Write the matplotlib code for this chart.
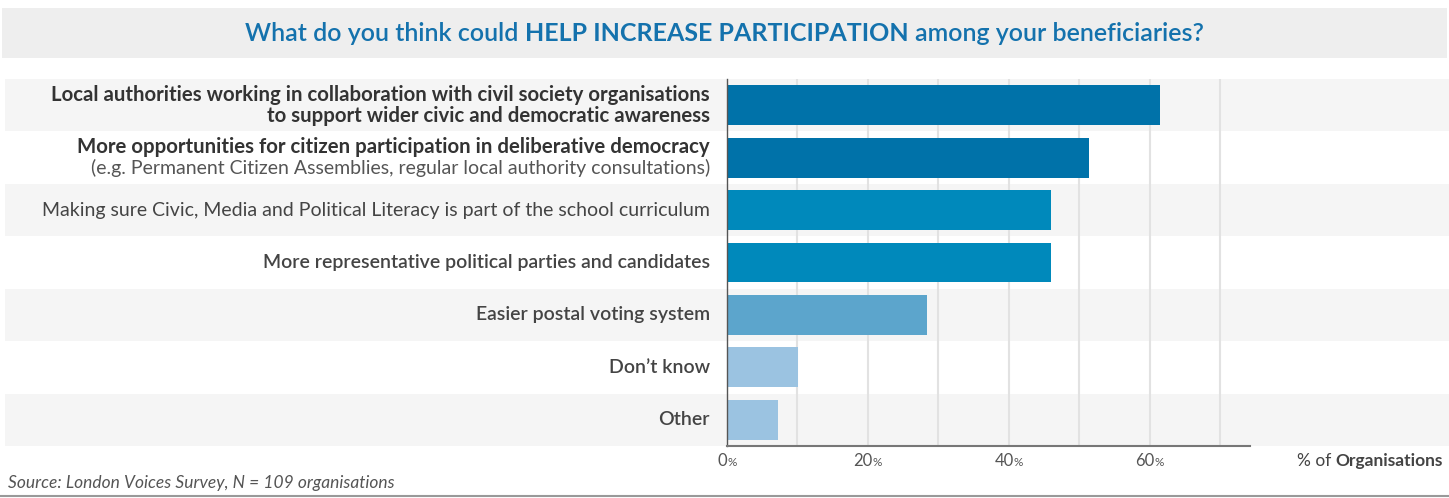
import matplotlib
matplotlib.use('Agg')
import matplotlib.pyplot as plt
from matplotlib.patches import Rectangle
from matplotlib.transforms import IdentityTransform, blended_transform_factory

# data
categories = [
    "Local authorities working in collaboration with civil society organisations\nto support wider civic and democratic awareness",
    "More opportunities for citizen participation in deliberative democracy",
    "Making sure Civic, Media and Political Literacy is part of the school curriculum",
    "More representative political parties and candidates",
    "Easier postal voting system",
    "Don\u2019t know",
    "Other",
]
notes = ["", "(e.g. Permanent Citizen Assemblies, regular local authority consultations)", "", "", "", "", ""]
weights = ["bold", "bold", "normal", "semibold", "semibold", "semibold", "semibold"]
values = [61.5, 51.4, 45.9, 45.9, 28.4, 10.1, 7.3]
bar_colors = ["#0072a9", "#0072a9", "#0089bb", "#0089bb", "#5ca5cc", "#9bc3e1", "#9bc3e1"]
ticks = [0, 20, 40, 60]

FONT = "Lato"
W, H = 1449, 498
plt.rcParams['font.family'] = [FONT, 'DejaVu Sans']
BSIZE = 14.7   # bold labels
LSIZE = 14.0   # regular labels

fig = plt.figure(figsize=(W / 100, H / 100), dpi=100)
ax = fig.add_axes([727 / W, 1 - 446 / H, 523 / W, 367 / H])
ax.set_facecolor('none')

n = len(categories)
ax.set_ylim(n - 0.5, -0.5)
ax.set_xlim(0, 74.2)

# row bands, full figure width
band_tr = blended_transform_factory(fig.transFigure, ax.transData)
for i in range(0, n, 2):
    fig.add_artist(Rectangle((5 / W, i - 0.5), 1 - 5 / W, 1, transform=band_tr,
                             facecolor='#f5f5f5', edgecolor='none', zorder=-1))

# title band
fig.add_artist(Rectangle((2 / W, 1 - 58 / H), 1445 / W, 50 / H, transform=fig.transFigure,
                         facecolor='#eeeeee', edgecolor='none', zorder=-1))

ax.barh(range(n), values, height=0.76, color=bar_colors, zorder=2)

for g in range(10, 80, 10):
    ax.axvline(g, color='#e2e2e2', lw=1.5, zorder=1)

for s in ['top', 'right']:
    ax.spines[s].set_visible(False)
ax.spines['left'].set_color('#555555')
ax.spines['left'].set_linewidth(1)
ax.spines['bottom'].set_color('#777777')
ax.spines['bottom'].set_linewidth(1.5)
ax.set_xticks([])
ax.set_yticks([])

# category labels
lab_tr = blended_transform_factory(fig.transFigure, ax.transData)
lx = 710 / W
for i, lab in enumerate(categories):
    size = BSIZE if weights[i] == 'bold' else LSIZE
    if notes[i]:
        ax.text(lx, i - 0.2, lab, transform=lab_tr, ha='right', va='center',
                fontsize=size, fontweight=weights[i], color='#333333')
        ax.text(lx, i + 0.2, notes[i], transform=lab_tr, ha='right', va='center',
                fontsize=LSIZE, color='#555555')
    else:
        ax.text(lx, i, lab, transform=lab_tr, ha='right', va='center', linespacing=1.05,
                fontsize=size, fontweight=weights[i], color='#333333' if weights[i] == 'bold' else '#444444')

renderer = fig.canvas.get_renderer()


def text_w(s, **kw):
    t = fig.text(0, 0, s, transform=IdentityTransform(), **kw)
    w = t.get_window_extent(renderer).width
    t.remove()
    return w


def rich(x, y, parts, ha='left'):
    # parts: list of (string, kwargs, space_after)
    widths = []
    for s, kw, sp in parts:
        w = text_w(s, **kw)
        gap = (text_w('x x', **kw) - text_w('xx', **kw)) if sp else 0
        widths.append((w, gap))
    total = sum(w + g for w, g in widths)
    if ha == 'center':
        x0 = x - total / 2
    elif ha == 'right':
        x0 = x - total
    else:
        x0 = x
    for (s, kw, sp), (w, g) in zip(parts, widths):
        fig.text(x0, y, s, transform=IdentityTransform(), va='baseline', **kw)
        x0 += w + g


title_col = '#1472ad'
rich(W / 2, H - 41, [
    ("What do you think could", dict(fontsize=18, fontweight='semibold', color=title_col), True),
    ("HELP INCREASE PARTICIPATION", dict(fontsize=18, fontweight='bold', color=title_col), True),
    ("among your beneficiaries?", dict(fontsize=18, fontweight='semibold', color=title_col), False),
], ha='center')

for t in ticks:
    xp = ax.transData.transform((t, 0))[0]
    rich(xp, H - 466, [
        (str(t), dict(fontsize=12, color='#555555'), False),
        ("%", dict(fontsize=8.5, color='#555555'), False),
    ], ha='center')

rich(1443, H - 466, [
    ("% of", dict(fontsize=12.5, color='#444444'), True),
    ("Organisations", dict(fontsize=12.5, fontweight='bold', color='#444444'), False),
], ha='right')

fig.text(8 / W, 1 - 483 / H, "Source: London Voices Survey, N = 109 organisations",
         fontsize=12.5, fontstyle='italic', color='#555555', va='center', ha='left')

fig.add_artist(plt.Line2D([0, 1], [1 - 496 / H, 1 - 496 / H], transform=fig.transFigure,
                          color='#999999', lw=1.5))

fig.savefig('out.png', dpi=100)
